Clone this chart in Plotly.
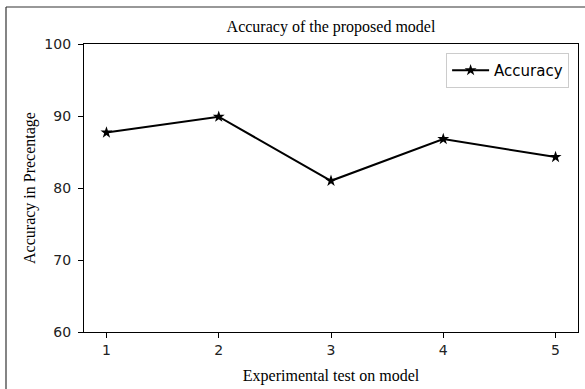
import plotly.graph_objects as go

tests = [1, 2, 3, 4, 5]
accuracy = [87.7, 89.9, 81.0, 86.8, 84.3]
y_ticks = [60, 70, 80, 90, 100]

fig = go.Figure()
fig.add_trace(go.Scatter(
    x=tests, y=accuracy, mode="lines+markers", name="Accuracy",
    line=dict(color="black", width=2),
    marker=dict(symbol="star", size=9, color="black"),
))

serif = "Liberation Serif, Times New Roman, serif"
sans = "DejaVu Sans, sans-serif"

fig.update_layout(
    width=585, height=389,
    margin=dict(l=84, r=7, t=44, b=57),
    paper_bgcolor="white", plot_bgcolor="white",
    title=dict(text="Accuracy of the proposed model", x=(331 / 585), xanchor="center",
               y=1 - 26 / 389, yanchor="middle",
               font=dict(family=serif, size=16, color="black")),
    xaxis=dict(range=[0.8, 5.2], tickvals=tests, ticktext=[str(t) for t in tests],
               showgrid=False, zeroline=False, showline=True, linecolor="black", linewidth=1.3,
               mirror=True, ticks="outside", ticklen=5, tickwidth=1, tickcolor="black",
               tickfont=dict(family=sans, size=14, color="#222"),
               title=dict(text="Experimental test on model", standoff=12,
                          font=dict(family=serif, size=16, color="black"))),
    yaxis=dict(range=[60, 100], tickvals=y_ticks,
               showgrid=False, zeroline=False, showline=True, linecolor="black", linewidth=1.3,
               mirror=True, ticks="outside", ticklen=5, tickwidth=1, tickcolor="black",
               ticklabelstandoff=4,
               tickfont=dict(family=sans, size=14, color="#222"),
               title=dict(text="Accuracy in Precentage", standoff=4,
                          font=dict(family=serif, size=16, color="black"))),
    legend=dict(x=0.982, y=0.969, xanchor="right", yanchor="top",
                bordercolor="#cccccc", borderwidth=1, bgcolor="white",
                itemwidth=37,
                font=dict(family=sans, size=15, color="black")),
    showlegend=True,
)

# outer frame (left and top edges of image border)
fig.add_shape(type="line", xref="paper", yref="paper",
              x0=-78 / 494, x1=1.05, y0=1 + 37 / 288, y1=1 + 37 / 288,
              line=dict(color="#333", width=1.2))
fig.add_shape(type="line", xref="paper", yref="paper",
              x0=-78 / 494, x1=-78 / 494, y0=-0.3, y1=1 + 37 / 288,
              line=dict(color="#333", width=1.2))

fig.write_html("out.html", config={"displayModeBar": False},
               post_script="document.body.style.margin='0';document.body.style.overflow='hidden';")
